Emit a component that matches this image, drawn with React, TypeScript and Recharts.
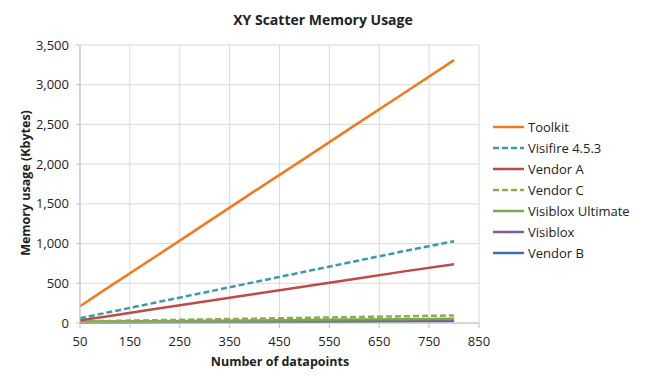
import React from 'react';
import { LineChart, Line, XAxis, YAxis, CartesianGrid } from 'recharts';

// datapoint counts used for each run
const points = [50, 100, 200, 300, 400, 500, 600, 700, 800];

// memory usage (Kbytes) per library
const toolkit = [210, 420, 830, 1245, 1660, 2070, 2485, 2895, 3310];
const visifire = [60, 125, 255, 385, 515, 645, 775, 905, 1030];
const vendorA = [35, 80, 175, 270, 365, 460, 555, 650, 740];
const vendorC = [20, 25, 35, 45, 55, 65, 75, 85, 95];
const visibloxUltimate = [15, 18, 23, 28, 33, 38, 43, 48, 55];
const visiblox = [10, 12, 15, 18, 22, 25, 28, 31, 35];
const vendorB = [5, 7, 9, 12, 14, 17, 19, 22, 25];

const xTicks = [50, 150, 250, 350, 450, 550, 650, 750, 850];
const yTicks = [0, 500, 1000, 1500, 2000, 2500, 3000, 3500];

const series = [
    { key: 'toolkit', name: 'Toolkit', values: toolkit, color: '#F07A1E', dash: undefined },
    { key: 'visifire', name: 'Visifire 4.5.3', values: visifire, color: '#3E97AD', dash: '6 3' },
    { key: 'vendorA', name: 'Vendor A', values: vendorA, color: '#BE4B48', dash: undefined },
    { key: 'vendorC', name: 'Vendor C', values: vendorC, color: '#8AAE4A', dash: '6 3' },
    { key: 'visibloxUltimate', name: 'Visiblox Ultimate', values: visibloxUltimate, color: '#7EA848', dash: undefined },
    { key: 'visiblox', name: 'Visiblox', values: visiblox, color: '#7D5FA0', dash: undefined },
    { key: 'vendorB', name: 'Vendor B', values: vendorB, color: '#3F6CAE', dash: undefined },
];

const font = '"Open Sans", "Liberation Sans", sans-serif';

export default function App() {
    const data = points.map((p, i) => {
        const row: any = { x: p };
        series.forEach((s) => (row[s.key] = s.values[i]));
        return row;
    });

    return (
        <div style={{ position: 'absolute', left: 0, top: 0, width: 650, height: 384, background: '#fff', fontFamily: font }}>
            <div style={{ position: 'absolute', left: 0, width: 646, top: 10, textAlign: 'center', fontWeight: 'bold', fontSize: 14, color: '#222' }}>
                XY Scatter Memory Usage
            </div>
            <div style={{ position: 'absolute', left: 80, width: 400, top: 353, textAlign: 'center', fontWeight: 'bold', fontSize: 12.5, color: '#222' }}>
                Number of datapoints
            </div>
            <div
                style={{
                    position: 'absolute', left: 25, top: 183, width: 200, marginLeft: -100, textAlign: 'center',
                    transform: 'translateY(-50%) rotate(-90deg)', fontWeight: 'bold', fontSize: 12.5, color: '#222',
                }}
            >
                Memory usage (Kbytes)
            </div>
            <LineChart width={650} height={384} data={data} margin={{ top: 45, right: 171, bottom: 31, left: 20 }}>
                <CartesianGrid stroke="#d9d9d9" vertical horizontal />
                <XAxis
                    dataKey="x"
                    type="number"
                    domain={[50, 850]}
                    ticks={xTicks}
                    height={30}
                    stroke="#bfbfbf"
                    tickSize={5}
                    tickMargin={9}
                    tick={{ fill: '#222', fontSize: 13, fontFamily: font }}
                />
                <YAxis
                    type="number"
                    domain={[0, 3500]}
                    ticks={yTicks}
                    width={60}
                    stroke="#bfbfbf"
                    tickSize={4}
                    tickMargin={7}
                    tick={{ fill: '#222', fontSize: 13, fontFamily: font }}
                    tickFormatter={(v: number) => v.toLocaleString('en-US')}
                />
                {series
                    .slice()
                    .reverse()
                    .map((s) => (
                        <Line
                            key={s.key}
                            dataKey={s.key}
                            name={s.name}
                            stroke={s.color}
                            strokeWidth={2.5}
                            strokeDasharray={s.dash}
                            dot={false}
                            type="linear"
                            isAnimationActive={false}
                        />
                    ))}
            </LineChart>
            <div style={{ position: 'absolute', left: 492, top: 116 }}>
                {series.map((s) => (
                    <div key={s.key} style={{ display: 'flex', alignItems: 'center', height: 21, fontSize: 13, color: '#222' }}>
                        <svg width={33} height={6} style={{ marginRight: 3 }}>
                            <line x1={1} y1={3} x2={32} y2={3} stroke={s.color} strokeWidth={2.5} strokeDasharray={s.dash} />
                        </svg>
                        {s.name}
                    </div>
                ))}
            </div>
        </div>
    );
}
